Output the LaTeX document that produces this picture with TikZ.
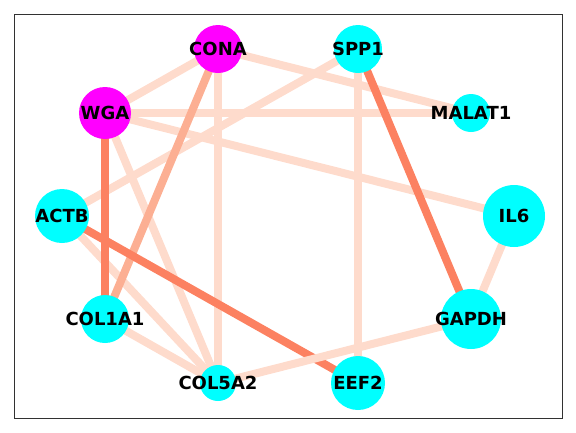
\documentclass[tikz,border=0pt]{standalone}
\usepackage{fontspec}
\setmainfont{DejaVu Sans}
\definecolor{nodecyan}{RGB}{0,255,255}
\definecolor{nodemagenta}{RGB}{255,0,255}
\definecolor{edgelight}{RGB}{254,219,204}
\definecolor{edgemid}{RGB}{252,175,147}
\definecolor{edgedark}{RGB}{252,129,97}
\begin{document}
\begin{tikzpicture}[x=1pt,y=-1pt,
  lbl/.style={font=\bfseries\fontsize{18}{18}\selectfont,inner sep=0pt},
  gene/.style={circle,fill=#1,inner sep=0pt},
  wlight/.style={line width=8pt,draw=edgelight},
  wmid/.style={line width=8pt,draw=edgemid},
  wdark/.style={line width=8pt,draw=edgedark}]
\useasboundingbox (0,0) rectangle (576,432);
\draw[line width=1pt,draw={rgb,255:red,50;green,50;blue,50}] (14.5,14.5) rectangle (562,418);
% node positions
\coordinate (pCONA) at (218,49);
\coordinate (pSPP1) at (358,49);
\coordinate (pWGA) at (105,113);
\coordinate (pMALAT1) at (471,113);
\coordinate (pACTB) at (62,216);
\coordinate (pIL6) at (514,216);
\coordinate (pCOL1A1) at (105,319);
\coordinate (pGAPDH) at (471,319);
\coordinate (pCOL5A2) at (218,383);
\coordinate (pEEF2) at (358,383);
% edges
\draw[wlight] (pCONA) -- (pWGA);
\draw[wlight] (pCONA) -- (pMALAT1);
\draw[wlight] (pCONA) -- (pCOL5A2);
\draw[wlight] (pSPP1) -- (pACTB);
\draw[wlight] (pSPP1) -- (pEEF2);
\draw[wlight] (pWGA) -- (pMALAT1);
\draw[wlight] (pWGA) -- (pIL6);
\draw[wlight] (pWGA) -- (pCOL5A2);
\draw[wlight] (pACTB) -- (pCOL5A2);
\draw[wlight] (pCOL1A1) -- (pCOL5A2);
\draw[wlight] (pIL6) -- (pGAPDH);
\draw[wmid] (pCONA) -- (pCOL1A1);
\draw[wdark] (pWGA) -- (pCOL1A1);
\draw[wdark] (pSPP1) -- (pGAPDH);
\draw[wdark] (pACTB) -- (pEEF2);
\draw[wlight] (pGAPDH) -- (pCOL5A2);
% node discs
\node[gene=nodemagenta,minimum size=48pt] (CONA) at (pCONA) {};
\node[gene=nodecyan,minimum size=48pt] (SPP1) at (pSPP1) {};
\node[gene=nodemagenta,minimum size=52pt] (WGA) at (pWGA) {};
\node[gene=nodecyan,minimum size=38pt] (MALAT1) at (pMALAT1) {};
\node[gene=nodecyan,minimum size=54pt] (ACTB) at (pACTB) {};
\node[gene=nodecyan,minimum size=62pt] (IL6) at (pIL6) {};
\node[gene=nodecyan,minimum size=48pt] (COL1A1) at (pCOL1A1) {};
\node[gene=nodecyan,minimum size=60pt] (GAPDH) at (pGAPDH) {};
\node[gene=nodecyan,minimum size=36pt] (COL5A2) at (pCOL5A2) {};
\node[gene=nodecyan,minimum size=54pt] (EEF2) at (pEEF2) {};
% labels
\node[lbl] (tCONA) at (CONA) {CONA};
\node[lbl] (tSPP1) at (SPP1) {SPP1};
\node[lbl] (tWGA) at (WGA) {WGA};
\node[lbl] (tMALAT1) at (MALAT1) {MALAT1};
\node[lbl] (tACTB) at (ACTB) {ACTB};
\node[lbl] (tIL6) at (IL6) {IL6};
\node[lbl] (tCOL1A1) at (COL1A1) {COL1A1};
\node[lbl] (tGAPDH) at (GAPDH) {GAPDH};
\node[lbl] (tCOL5A2) at (COL5A2) {COL5A2};
\node[lbl] (tEEF2) at (EEF2) {EEF2};
\end{tikzpicture}
\end{document}
